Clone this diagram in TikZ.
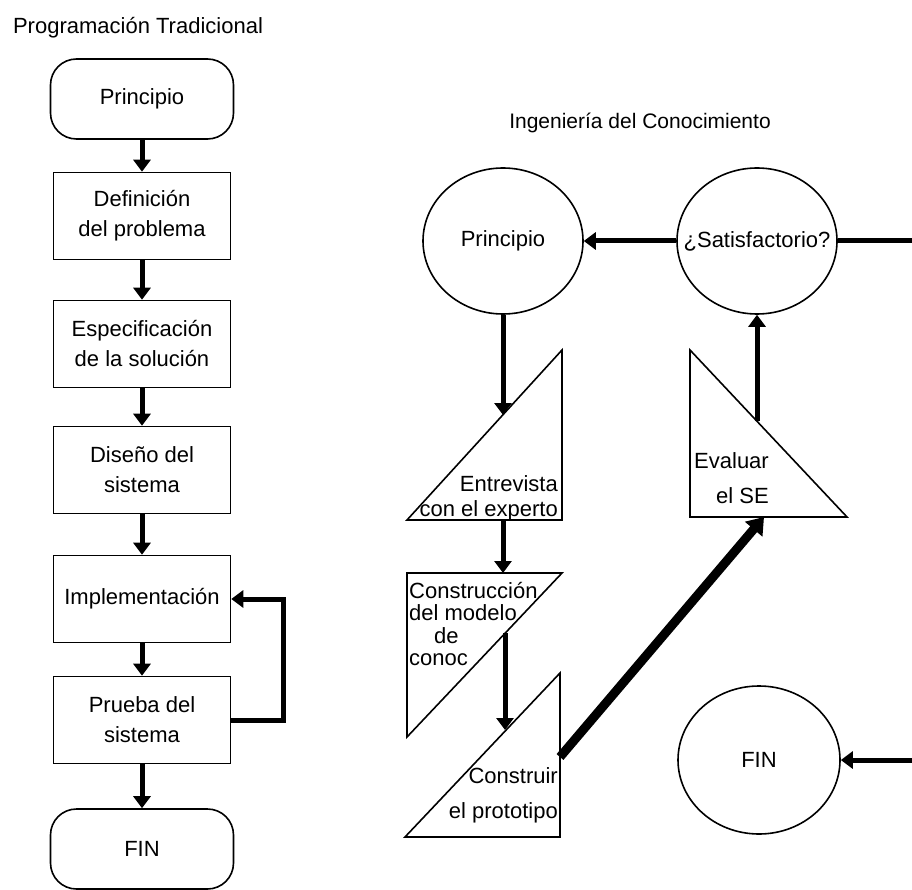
\documentclass[tikz,border=0pt]{standalone}
\usepackage{fontspec}
\setmainfont{Liberation Sans}
\usetikzlibrary{shapes.geometric,arrows.meta}

\begin{document}
\begin{tikzpicture}[
	x=1pt,
	y=-1pt,
	every node/.style={
		font=\fontsize{22}{30}\selectfont,
		inner sep=0pt
	},
	stepbox/.style={
		rectangle,
		draw,
		line width=1.6pt,
		minimum width=177pt,
		minimum height=87pt,
		align=center
	},
	endbox/.style={
		rectangle,
		rounded corners=26pt,
		draw,
		line width=1.6pt,
		minimum width=183pt,
		minimum height=80pt
	},
	oval/.style={
		ellipse,
		draw,
		line width=1.6pt,
		minimum width=160pt,
		minimum height=146pt
	},
	shapeline/.style={
		line width=1.6pt
	},
	arrowline/.style={
		line width=5pt,
		-{Triangle[length=12pt,width=17pt]}
	},
	bigarrow/.style={
		line width=9pt,
		-{Triangle[length=16pt,width=22pt]}
	}
]

\useasboundingbox (0,0) rectangle (912,890);



\def\colx{142} % centre of the left column


% Programacion Tradicional
\node (pt-title) at (138,28) {Programación Tradicional};

\node[endbox] (pt-ini) at (\colx,99) {Principio};
\foreach \name/\ypos/\txt in {
	pt-def/216/{Definición\\del problema},
	pt-esp/344/{Especificación\\de la solución},
	pt-dis/470/{Diseño del\\sistema},
	pt-imp/599/{Implementación},
	pt-pru/720/{Prueba del\\sistema}%
}{
	\node[stepbox] (\name) at (\colx,\ypos) {\txt};
}
\node[endbox] (pt-fin) at (\colx,849) {FIN};

\foreach \a/\b in {pt-ini/pt-def, pt-def/pt-esp, pt-esp/pt-dis, pt-dis/pt-imp, pt-imp/pt-pru, pt-pru/pt-fin}
	\draw[arrowline] (\a) -- (\b);

\draw[arrowline] (pt-pru.east) -- ++(52,0) |- (pt-imp.east);



% Ingenieria del Conocimiento
\node[font=\fontsize{21}{25}\selectfont] (ic-title) at (640,123) {Ingeniería del Conocimiento};

\node[oval] (ic-ini) at (503,241) {\makebox[0pt]{Principio}};
\node[oval] (ic-sat) at (757,241) {\makebox[0pt]{¿Satisfactorio?}};
\node[oval, minimum width=162pt, minimum height=148pt] (ic-fin) at (759,760) {\makebox[0pt]{FIN}};

% entrevista
\draw[shapeline] (407,520) -- (562,520) -- (562,350) -- cycle;
\coordinate (ic-ent-in) at (503,415);
\coordinate (ic-ent-out) at (503,520);
\node[anchor=east, align=right, font=\fontsize{22}{25}\selectfont] (ic-ent) at (558,498) {Entrevista\\con el experto};

% modelo
\draw[shapeline] (407,573) -- (562,573) -- (407,737) -- cycle;
\coordinate (ic-mod-in) at (503,573);
\coordinate (ic-mod-out) at (505,633);
\node[anchor=west, align=left, font=\fontsize{22}{22.5}\selectfont] (ic-mod) at (409,624) {Construcción\\del modelo\\\hspace*{25pt}de\\conoc};

% prototipo
\draw[shapeline] (405,837) -- (560,837) -- (560,673) -- cycle;
\coordinate (ic-pro-in) at (505,730);
\coordinate (ic-pro-out) at (560,757);
\node[anchor=east, align=right, font=\fontsize{22}{35}\selectfont] (ic-pro) at (558,795) {Construir\\el prototipo};

% evaluar
\draw[shapeline] (690,350) -- (690,517) -- (847,517) -- cycle;
\coordinate (ic-eva-in) at (764,517);
\coordinate (ic-eva-out) at (757,421);
\node[anchor=east, align=right, font=\fontsize{22}{35}\selectfont] (ic-eva) at (769,478) {Evaluar\\el SE};

\draw[arrowline] (ic-ini) -- (ic-ent-in);
\draw[arrowline] (ic-ent-out) -- (ic-mod-in);
\draw[arrowline] (ic-mod-out) -- (ic-pro-in);
\draw[bigarrow] (ic-pro-out) -- (ic-eva-in);
\draw[arrowline] (ic-eva-out) -- (ic-sat);
\draw[arrowline] (ic-sat) -- (ic-ini);
\draw[arrowline] (ic-sat.east) -- ++(110,0) |- (ic-fin.east); % runs off the right edge



\end{tikzpicture}
\end{document}
